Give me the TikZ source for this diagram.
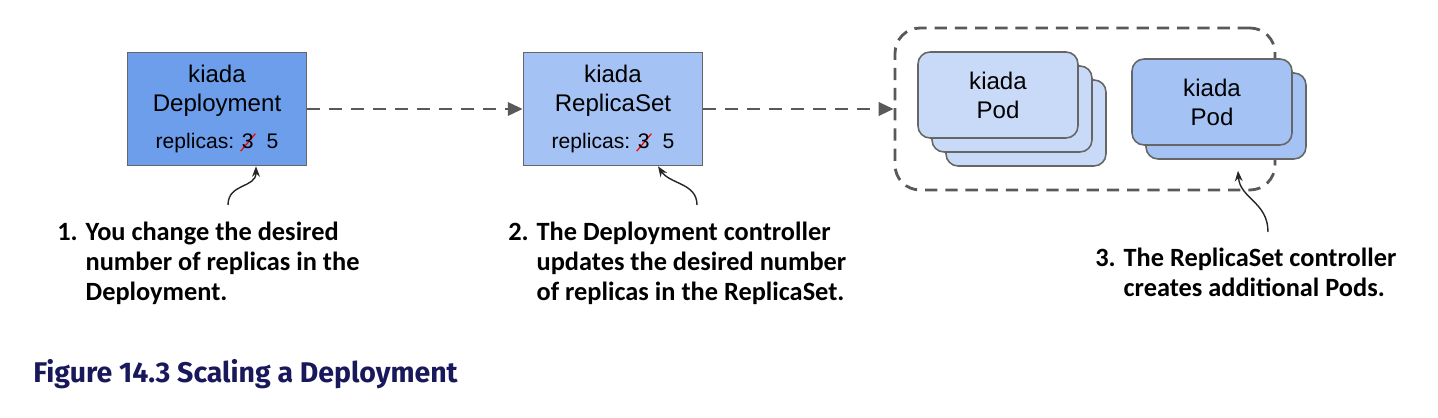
\documentclass[tikz,border=0pt]{standalone}
\usepackage{fontspec}
\setmainfont{Liberation Sans}
\newfontfamily\notefont{Carlito}
\newfontfamily\capfont{Fira Sans}
\usetikzlibrary{arrows.meta}

\definecolor{depblue}{HTML}{6D9EEB}
\definecolor{rsblue}{HTML}{A4C2F4}
\definecolor{podpale}{HTML}{C9DAF8}
\definecolor{edgegray}{HTML}{666666}
\definecolor{flowgray}{HTML}{595959}
\definecolor{capnavy}{HTML}{18185A}

\newcommand\strikedigit[1]{\makebox[0pt][l]{\hspace{-1pt}\raisebox{-1.5pt}{\textcolor{red}{\rotatebox{50}{\rule{13pt}{.7pt}}}}}#1}

\begin{document}
\begin{tikzpicture}[x=.02cm, y=-.02cm,
	resbox/.style={draw=edgegray, line width=.9pt, minimum width=3.58cm, minimum height=2.26cm,
		align=center, font=\fontsize{13.7}{16.5}\selectfont},
	podcard/.style={draw=edgegray, line width=.9pt, rounded corners=.24cm, minimum width=3.2cm,
		minimum height=1.72cm, align=center, font=\fontsize{13.7}{16.5}\selectfont},
	flow/.style={draw=flowgray, line width=1.7pt, dash pattern=on 7.5pt off 5pt,
		-{Triangle[length=8.5pt,width=7.5pt]}},
	hint/.style={draw=black!85, line width=.8pt, -{Stealth[length=6pt,width=4.5pt]}},
	note/.style={anchor=north west, inner sep=0pt, align=left,
		font=\notefont\bfseries\fontsize{15}{16.9}\selectfont}
	]
	\useasboundingbox (0,0) rectangle (1438,418);

	\node[resbox, fill=depblue] (dep) at (217,109)
		{kiada\\Deployment\\[5pt]{\fontsize{12}{14}\selectfont replicas: \strikedigit{3}\hspace{4pt} 5}};
	\node[resbox, fill=rsblue] (rs) at (613,109)
		{kiada\\ReplicaSet\\[5pt]{\fontsize{12}{14}\selectfont replicas: \strikedigit{3}\hspace{4pt} 5}};

	\node[draw=flowgray, line width=1.6pt, dash pattern=on 7pt off 4.5pt, rounded corners=.5cm,
		minimum width=7.6cm, minimum height=3.24cm] (pods) at (1085,109) {};

	\foreach \k in {2,1}
		\node[podcard, fill=podpale] (left\k) at ({998+14*\k},{95+14*\k}) {};
	\node[podcard, fill=podpale] (left0) at (998,95) {kiada\\Pod};
	\node[podcard, fill=rsblue] (right1) at (1226,116) {};
	\node[podcard, fill=rsblue] (right0) at (1212,102) {kiada\\Pod};

	\draw[flow] (dep) -- (rs);
	\draw[flow] (rs.east) -- (rs.east -| pods.west);

	\coordinate (t1) at (228,205);
	\coordinate (t2) at (697,205);
	\coordinate (t3) at (1268,232);
	\draw[hint] (t1) .. controls +(0,-22) and +(0,22) .. ([xshift=.78cm]dep.south);
	\draw[hint] (t2) .. controls +(0,-22) and +(12,18) .. ([xshift=.9cm]rs.south);
	\draw[hint] (t3) .. controls +(0,-30) and +(2,28) .. ([shift={(.24cm,-.22cm)}]right1.south);

	\node[note] (note1) at (57,222) {1. You change the desired\\\phantom{1. }number of replicas in the\\\phantom{1. }Deployment.};
	\node[note] (note2) at (508,222) {2. The Deployment controller\\\phantom{2. }updates the desired number\\\phantom{2. }of replicas in the ReplicaSet.};
	\node[note] (note3) at (1095,248) {3. The ReplicaSet controller\\\phantom{3. }creates additional Pods.};

	\node[anchor=base west, inner sep=0pt, text=capnavy,
		font=\capfont\bfseries\fontsize{16.2}{19}\selectfont] (caption) at (33,383) {Figure 14.3 Scaling a Deployment};
\end{tikzpicture}
\end{document}
